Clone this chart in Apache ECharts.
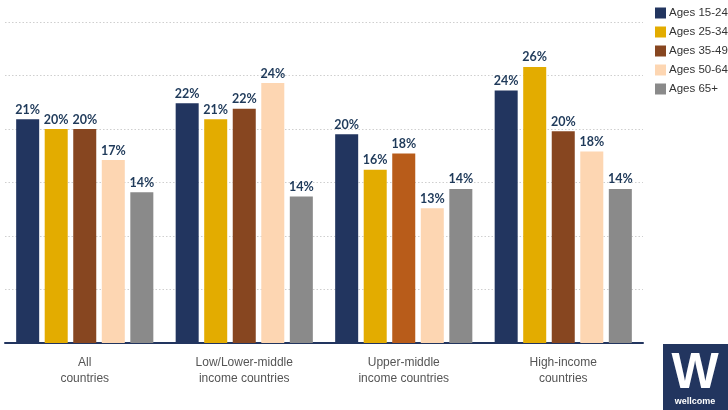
<!DOCTYPE html>
<html><head><meta charset="utf-8">
<script src="https://cdn.jsdelivr.net/npm/echarts@6/dist/echarts.min.js"></script>
<style>html,body{margin:0;padding:0;background:#fff}#c{width:728px;height:410px}</style>
</head><body><div id="c"></div>
<script>
const categories = ['All\ncountries', 'Low/Lower-middle\nincome countries', 'Upper-middle\nincome countries', 'High-income\ncountries'];
const seriesNames = ['Ages 15-24', 'Ages 25-34', 'Ages 35-49', 'Ages 50-64', 'Ages 65+'];
const ages15_24 = [20.9, 22.4, 19.5, 23.6];
const ages25_34 = [20.0, 20.9, 16.2, 25.8];
const ages35_49 = [20.0, 21.9, 17.7, 19.8];
const ages50_64 = [17.1, 24.3, 12.6, 17.9];
const ages65 = [14.1, 13.7, 14.4, 14.4];
const colors = ['#22355f', '#e3ac00', '#874620', '#fdd6b2', '#8a8a8a'];
const highlightColor = '#b85c1a';

const allValues = [ages15_24, ages25_34, ages35_49, ages50_64, ages65];
const chart = echarts.init(document.getElementById('c'));
const series = allValues.map((vals, i) => ({
  name: seriesNames[i],
  type: 'bar',
  barGap: '24%',
  barCategoryGap: '14%',
  data: vals.map((v, j) => (i === 2 && j === 2) ? {value: v, itemStyle: {color: highlightColor}} : v),
  itemStyle: {color: colors[i]},
  label: {
    show: true, position: 'top', distance: 3,
    color: '#1f3a5a', fontFamily: 'Lato', fontWeight: 'bold', fontSize: 12.5,
    formatter: p => Math.round(p.value) + '%'
  }
}));
chart.setOption({
  animation: false,
  color: colors,
  grid: {left: 5, right: 85, top: 22, bottom: 67},
  legend: {
    orient: 'vertical', left: 655, top: 7, padding: 0, itemWidth: 11, itemHeight: 11, itemGap: 7,
    icon: 'rect', data: seriesNames,
    textStyle: {color: '#333', fontFamily: 'Liberation Sans', fontSize: 11.5, padding: [0,0,0,-2]}
  },
  xAxis: {
    type: 'category', data: categories,
    axisLine: {lineStyle: {color: '#22355f', width: 2}},
    axisTick: {show: false},
    axisLabel: {color: '#555', fontFamily: 'Liberation Sans', fontSize: 12, lineHeight: 16, margin: 12}
  },
  yAxis: {
    type: 'value', min: 0, max: 30, interval: 5,
    axisLabel: {show: false}, axisLine: {show: false}, axisTick: {show: false},
    splitLine: {lineStyle: {color: '#cfcfcf', type: [1.5, 2], width: 1}}
  },
  series: series,
  graphic: [
    {type: 'rect', shape: {x: 663, y: 344, width: 65, height: 66}, style: {fill: '#22355f'}},
    {type: 'text', style: {x: 695, y: 374, text: 'W', fill: '#fff', font: 'bold 50px "Liberation Sans Narrow", "Liberation Sans"', align: 'center', verticalAlign: 'middle'}},
    {type: 'text', style: {x: 695, y: 402, text: 'wellcome', fill: '#fff', font: 'bold 9px "Liberation Sans"', align: 'center', verticalAlign: 'middle'}}
  ]
});
</script></body></html>
